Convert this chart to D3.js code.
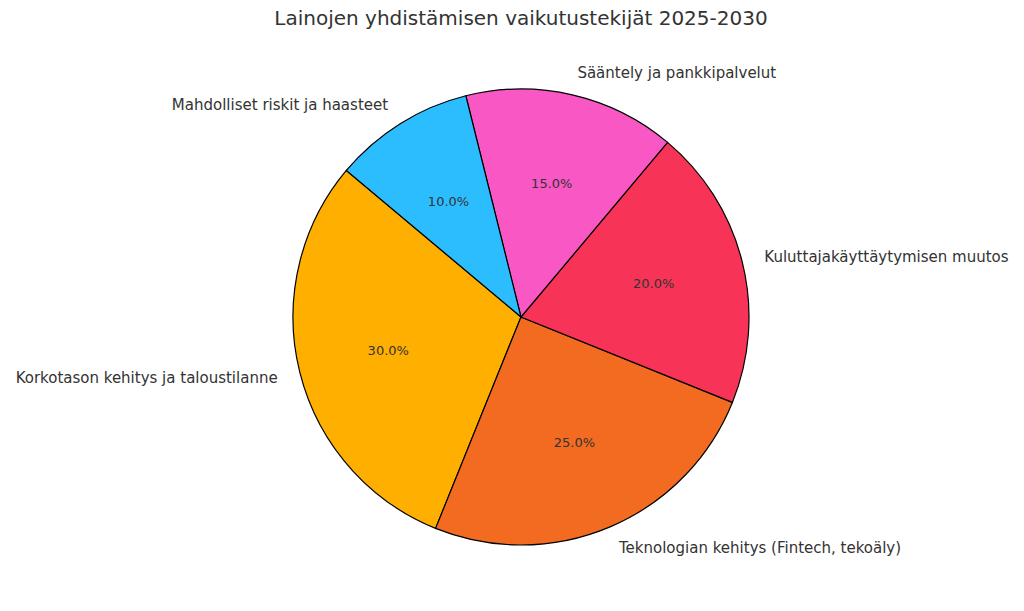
<!DOCTYPE html>
<html>
<head>
<meta charset="utf-8">
<script src="https://cdn.jsdelivr.net/npm/d3@7"></script>
<style>
  body { margin: 0; background: #fff; }
  text { font-family: "DejaVu Sans", sans-serif; fill: #333; }
</style>
</head>
<body>
<svg id="chart" width="1024" height="611"></svg>
<script>
// data
var categories = ['Korkotason kehitys ja taloustilanne', 'Teknologian kehitys (Fintech, tekoäly)',
  'Kuluttajakäyttäytymisen muutos', 'Sääntely ja pankkipalvelut', 'Mahdolliset riskit ja haasteet'];
var values = [30, 25, 20, 15, 10];
var colors = ['#FFAF00', '#F26B21', '#F73357', '#F957C3', '#2BBDFE'];

var svg = d3.select('#chart');
var cx = 521, cy = 317, r = 228;

svg.append('text')
  .attr('x', 521).attr('y', 25)
  .attr('text-anchor', 'middle')
  .style('font-size', '20px')
  .text('Lainojen yhdistämisen vaikutustekijät 2025-2030');

// matplotlib startangle=140, counterclockwise -> d3 clockwise-from-north angles
var start = (90 - 140) * Math.PI / 180;
var pie = d3.pie().sort(null).startAngle(start).endAngle(start - 2 * Math.PI);
var arcs = pie(values);
var arc = d3.arc().innerRadius(0).outerRadius(r);

var g = svg.append('g').attr('transform', 'translate(' + cx + ',' + cy + ')');

g.selectAll('path').data(arcs).enter().append('path')
  .attr('d', arc)
  .attr('fill', function(d, i) { return colors[i]; })
  .attr('stroke', '#000').attr('stroke-width', 1.2);

function pos(d, k) {
  var a = (d.startAngle + d.endAngle) / 2;
  return [Math.sin(a) * r * k, -Math.cos(a) * r * k];
}

g.selectAll('text.pct').data(arcs).enter().append('text')
  .attr('class', 'pct')
  .attr('x', function(d) { return pos(d, 0.6)[0]; })
  .attr('y', function(d) { return pos(d, 0.6)[1]; })
  .attr('dy', '0.35em')
  .attr('text-anchor', 'middle')
  .style('font-size', '13px')
  .text(function(d) { return d.value.toFixed(1) + '%'; });

g.selectAll('text.lbl').data(arcs).enter().append('text')
  .attr('class', 'lbl')
  .attr('x', function(d) { return pos(d, 1.1)[0]; })
  .attr('y', function(d) { return pos(d, 1.1)[1]; })
  .attr('dy', '0.35em')
  .attr('text-anchor', function(d) { return pos(d, 1.1)[0] < 0 ? 'end' : 'start'; })
  .style('font-size', '15px')
  .text(function(d, i) { return categories[i]; });
</script>
</body>
</html>
